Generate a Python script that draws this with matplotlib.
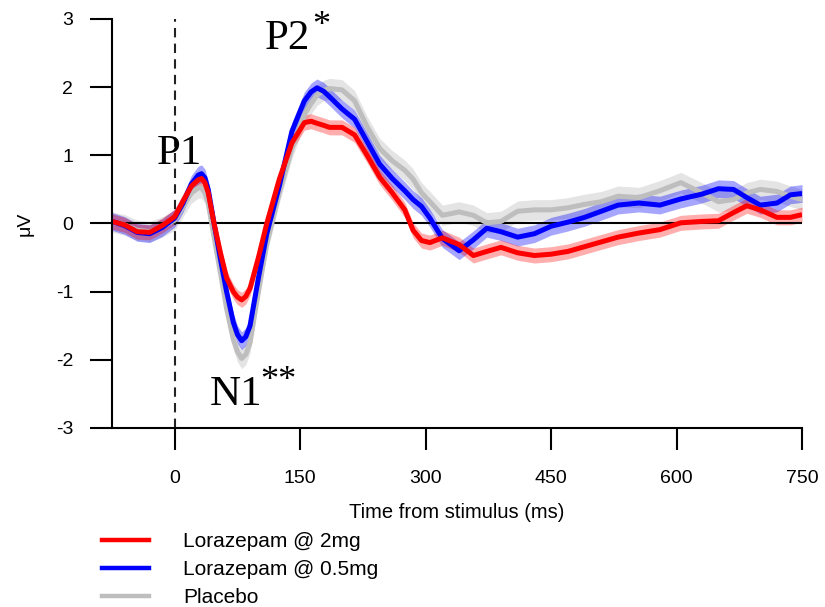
import matplotlib
matplotlib.use("Agg")
import matplotlib.pyplot as plt
import numpy as np

##------DATA------------------------------------------------------------
time_ms = [-75, -60, -45, -30, -15, 0, 10, 20, 28, 32, 36, 40, 47, 55, 62, 70,
           75, 80, 85, 90, 100, 110, 125, 140, 155, 163, 170, 178, 185, 200,
           215, 230, 245, 260, 275, 285, 295, 305, 320, 340, 357, 373, 390,
           410, 430, 450, 470, 490, 510, 530, 555, 580, 605, 630, 650, 668,
           684, 700, 720, 736, 750]

lora_2mg = [0.03, -0.02, -0.12, -0.13, -0.03, 0.10, 0.33, 0.55, 0.64, 0.66,
            0.60, 0.45, 0.00, -0.45, -0.80, -1.00, -1.08, -1.12, -1.07, -0.95,
            -0.50, 0.00, 0.65, 1.18, 1.48, 1.50, 1.47, 1.44, 1.41, 1.41, 1.30,
            1.00, 0.68, 0.45, 0.20, -0.10, -0.25, -0.28, -0.21, -0.31, -0.47,
            -0.41, -0.35, -0.43, -0.47, -0.45, -0.41, -0.34, -0.27, -0.20,
            -0.14, -0.09, 0.01, 0.03, 0.04, 0.16, 0.26, 0.20, 0.09, 0.09, 0.13]

lora_05mg = [0.03, -0.03, -0.13, -0.15, -0.06, 0.08, 0.30, 0.58, 0.71, 0.73,
             0.67, 0.50, 0.00, -0.55, -1.00, -1.45, -1.63, -1.72, -1.66, -1.50,
             -0.80, -0.15, 0.55, 1.35, 1.80, 1.93, 1.99, 1.94, 1.86, 1.68, 1.53,
             1.20, 0.87, 0.66, 0.48, 0.35, 0.25, 0.08, -0.22, -0.40, -0.24,
             -0.07, -0.12, -0.20, -0.15, -0.04, 0.02, 0.09, 0.18, 0.27, 0.30,
             0.27, 0.36, 0.43, 0.51, 0.50, 0.38, 0.27, 0.30, 0.42, 0.44]

placebo = [0.02, -0.02, -0.10, -0.12, -0.05, 0.05, 0.25, 0.45, 0.52, 0.52,
           0.45, 0.30, -0.20, -0.75, -1.25, -1.70, -1.88, -1.98, -1.92, -1.75,
           -1.00, -0.30, 0.45, 1.10, 1.60, 1.76, 1.88, 1.95, 1.98, 1.96, 1.80,
           1.42, 1.10, 0.92, 0.78, 0.65, 0.45, 0.32, 0.12, 0.17, 0.12, 0.01,
           0.03, 0.18, 0.20, 0.20, 0.23, 0.28, 0.32, 0.40, 0.38, 0.48, 0.60,
           0.45, 0.32, 0.35, 0.45, 0.50, 0.47, 0.40, 0.35]

# standard-error half widths of the shaded bands
se_2mg = 0.11
se_05mg = 0.13
se_placebo = 0.15

labels = ['Lorazepam @ 2mg', 'Lorazepam @ 0.5mg', 'Placebo']
x_ticks = [0, 150, 300, 450, 600, 750]
y_ticks = [-3, -2, -1, 0, 1, 2, 3]

##------FIGURE----------------------------------------------------------
plt.rcParams['font.family'] = ['Liberation Sans', 'DejaVu Sans']
plt.rcParams['axes.unicode_minus'] = False

fig = plt.figure(figsize=(8.25, 6.07), dpi=100)
ax = fig.add_axes([0.1358, 0.2949, 0.8364, 0.6738])

t = np.array(time_ms)
series = [
    (np.array(placebo), se_placebo, '#bebebe', '#cfcfcf', 0.55),
    (np.array(lora_05mg), se_05mg, '#0000ff', '#0000ff', 0.35),
    (np.array(lora_2mg), se_2mg, '#ff0000', '#ff0000', 0.32),
]
for vals, se, line_col, band_col, a in series:
    ax.fill_between(t, vals - se, vals + se, color=band_col, alpha=a, lw=0)
    ax.plot(t, vals, color=line_col, lw=3.6, solid_capstyle='butt',
            solid_joinstyle='round')

ax.axhline(0, color='black', lw=1.5, zorder=1)
ax.axvline(0, color='#222222', lw=1.5, dashes=(4.5, 3), zorder=1)

ax.set_xlim(-75, 750)
ax.set_ylim(-3, 3)
ax.set_xticks(x_ticks)
ax.set_yticks(y_ticks)
ax.spines['top'].set_visible(False)
ax.spines['right'].set_visible(False)
for s in ['left', 'bottom']:
    ax.spines[s].set_linewidth(1.5)
ax.tick_params(axis='both', direction='out', length=16, width=1.5, labelsize=14)
ax.tick_params(axis='y', pad=12)
ax.tick_params(axis='x', pad=14)

ax.set_xlabel('Time from stimulus (ms)', fontsize=14.5)
ax.set_ylabel('μV', fontsize=14)
ax.xaxis.set_label_coords(0.5, -0.183)
ax.yaxis.set_label_coords(-0.114, 0.5)

##------PEAK ANNOTATIONS------------------------------------------------
serif = ['Liberation Serif', 'DejaVu Serif']
ax.text(-21.5, 0.88, 'P1', family=serif, fontsize=31, ha='left', va='baseline')
ax.text(107.7, 2.56, 'P2', family=serif, fontsize=31, ha='left', va='baseline')
ax.text(164, 2.76, '*', family=serif, fontsize=26, ha='left', va='baseline')
ax.text(41.9, -2.66, 'N1', family=serif, fontsize=31, ha='left', va='baseline')
ax.text(101.7, -2.44, '**', family=serif, fontsize=26, ha='left', va='baseline')

##------LEGEND----------------------------------------------------------
handles = [plt.Line2D([], [], color=c, lw=3.2) for c in ['#ff0000', '#0000ff', '#bebebe']]
fig.legend(handles, labels, loc='upper left', bbox_to_anchor=(0.1236, 0.1234),
           frameon=False, fontsize=15, handlelength=2.26, handletextpad=1.63,
           labelspacing=0.44, borderpad=0, borderaxespad=0)

fig.savefig('out.png', dpi=100)
